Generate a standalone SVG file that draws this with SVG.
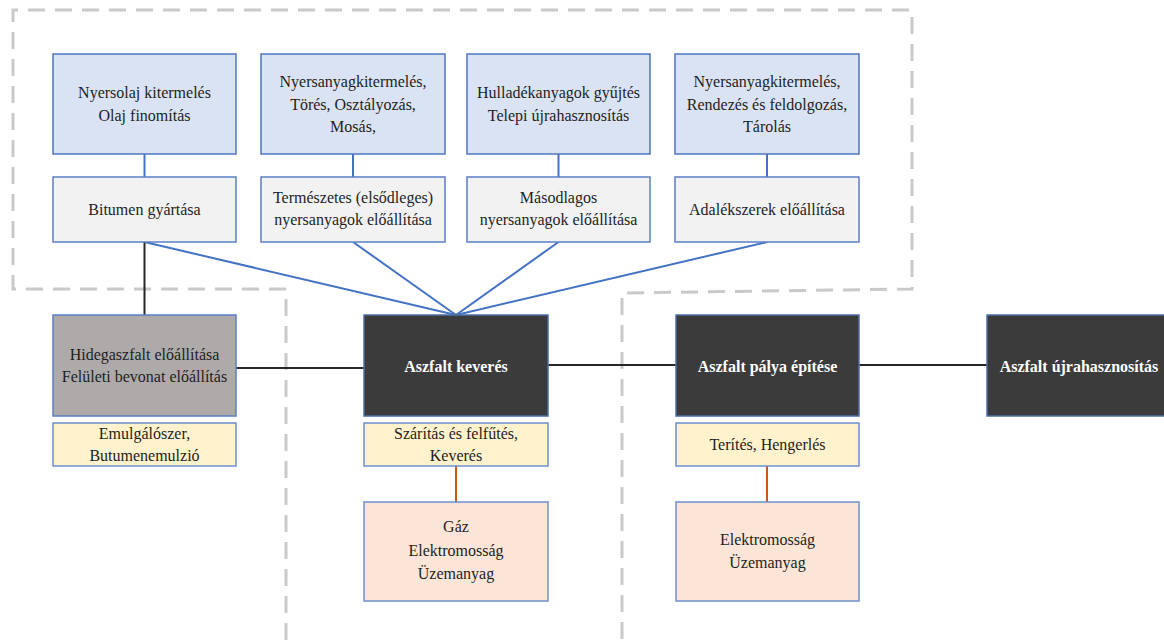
<svg xmlns="http://www.w3.org/2000/svg" width="1164" height="640" viewBox="0 0 1164 640">
<style>
text{font-size:16px;fill:#1e1e1e;text-anchor:middle}
.w{fill:#ffffff;font-weight:bold}
.blue{fill:#dae3f3;stroke:#4f75c0;stroke-width:1.5}
.gray{fill:#f2f2f2;stroke:#5b7fc6;stroke-width:1.5}
.dark{fill:#3b3b3b;stroke:#4a6fa8;stroke-width:1.5}
.mid{fill:#aeaaaa;stroke:#5b7fc6;stroke-width:1.5}
.yel{fill:#fff2cc;stroke:#6f8fcf;stroke-width:1.5}
.peach{fill:#fbe5d6;stroke:#6f8fcf;stroke-width:1.5}
.dash{fill:none;stroke:#c9c9c9;stroke-width:3;stroke-dasharray:17 10}
.cb{stroke:#4472c4;stroke-width:2;fill:none}
.ck{stroke:#262626;stroke-width:2;fill:none}
.co{stroke:#c55a11;stroke-width:2;fill:none}
</style>
<g id="regions">
<path class="dash" d="M286,640 L286,289 L13,289 L13,10 L912,10 L912,289 L622,293 L622,640"/>
</g>
<g id="connectors">
<line class="cb" x1="144.5" y1="154" x2="144.5" y2="177"/>
<line class="cb" x1="353" y1="154" x2="353" y2="177"/>
<line class="cb" x1="558.5" y1="154" x2="558.5" y2="177"/>
<line class="cb" x1="767" y1="154" x2="767" y2="177"/>
<line class="cb" x1="144.5" y1="242" x2="456" y2="315"/>
<line class="cb" x1="353" y1="242" x2="456" y2="315"/>
<line class="cb" x1="558.5" y1="242" x2="456" y2="315"/>
<line class="cb" x1="767" y1="242" x2="456" y2="315"/>
<line class="ck" x1="144.5" y1="242" x2="144.5" y2="315"/>
<line class="ck" x1="236" y1="368" x2="364" y2="368"/>
<line class="ck" x1="548" y1="365" x2="676" y2="365"/>
<line class="ck" x1="859" y1="365" x2="987" y2="365"/>
<line class="co" x1="456" y1="466" x2="456" y2="502"/>
<line class="co" x1="767" y1="466" x2="767" y2="502"/>
</g>
<g font-family="'Liberation Serif', 'DejaVu Serif', serif">
<g id="n-nyersolaj"><rect class="blue" x="53" y="54" width="183" height="100"/>
<text x="144.5" y="98">Nyersolaj kitermelés</text><text x="144.5" y="121">Olaj finomítás</text></g>
<g id="n-nyersanyag1"><rect class="blue" x="261" y="54" width="184" height="100"/>
<text x="353" y="87">Nyersanyagkitermelés,</text><text x="353" y="109.5">Törés, Osztályozás,</text><text x="353" y="132">Mosás,</text></g>
<g id="n-hulladek"><rect class="blue" x="467" y="54" width="183" height="100"/>
<text x="558.5" y="98">Hulladékanyagok gyűjtés</text><text x="558.5" y="121">Telepi újrahasznosítás</text></g>
<g id="n-nyersanyag2"><rect class="blue" x="675" y="54" width="184" height="100"/>
<text x="767" y="87">Nyersanyagkitermelés,</text><text x="767" y="109.5">Rendezés és feldolgozás,</text><text x="767" y="132">Tárolás</text></g>
<g id="n-bitumen"><rect class="gray" x="53" y="177" width="183" height="65"/>
<text x="144.5" y="214.5">Bitumen gyártása</text></g>
<g id="n-termeszetes"><rect class="gray" x="261" y="177" width="184" height="65"/>
<text x="353" y="203">Természetes (elsődleges)</text><text x="353" y="225">nyersanyagok előállítása</text></g>
<g id="n-masodlagos"><rect class="gray" x="467" y="177" width="183" height="65"/>
<text x="558.5" y="203">Másodlagos</text><text x="558.5" y="225">nyersanyagok előállítása</text></g>
<g id="n-adalek"><rect class="gray" x="675" y="177" width="184" height="65"/>
<text x="767" y="214.5">Adalékszerek előállítása</text></g>
<g id="n-hideg"><rect class="mid" x="53" y="315" width="183" height="101"/>
<text x="144.5" y="360">Hidegaszfalt előállítása</text><text x="144.5" y="382">Felületi bevonat előállítás</text></g>
<g id="n-emulg"><rect class="yel" x="53" y="423" width="183" height="43"/>
<text x="144.5" y="439">Emulgálószer,</text><text x="144.5" y="461">Butumenemulzió</text></g>
<g id="n-keveres"><rect class="dark" x="364" y="315" width="184" height="101"/>
<text class="w" x="456" y="372">Aszfalt keverés</text></g>
<g id="n-szaritas"><rect class="yel" x="364" y="423" width="184" height="43"/>
<text x="456" y="439">Szárítás és felfűtés,</text><text x="456" y="461">Keverés</text></g>
<g id="n-gaz"><rect class="peach" x="364" y="502" width="184" height="99"/>
<text x="456" y="532">Gáz</text><text x="456" y="556">Elektromosság</text><text x="456" y="579">Üzemanyag</text></g>
<g id="n-palya"><rect class="dark" x="676" y="315" width="183" height="101"/>
<text class="w" x="767.5" y="372">Aszfalt pálya építése</text></g>
<g id="n-terites"><rect class="yel" x="676" y="423" width="183" height="43"/>
<text x="767.5" y="450">Terítés, Hengerlés</text></g>
<g id="n-elektro"><rect class="peach" x="676" y="502" width="183" height="99"/>
<text x="767.5" y="545">Elektromosság</text><text x="767.5" y="568">Üzemanyag</text></g>
<g id="n-ujra"><rect class="dark" x="987" y="315" width="184" height="101"/>
<text class="w" x="1079" y="372">Aszfalt újrahasznosítás</text></g>
</g>
</svg>
